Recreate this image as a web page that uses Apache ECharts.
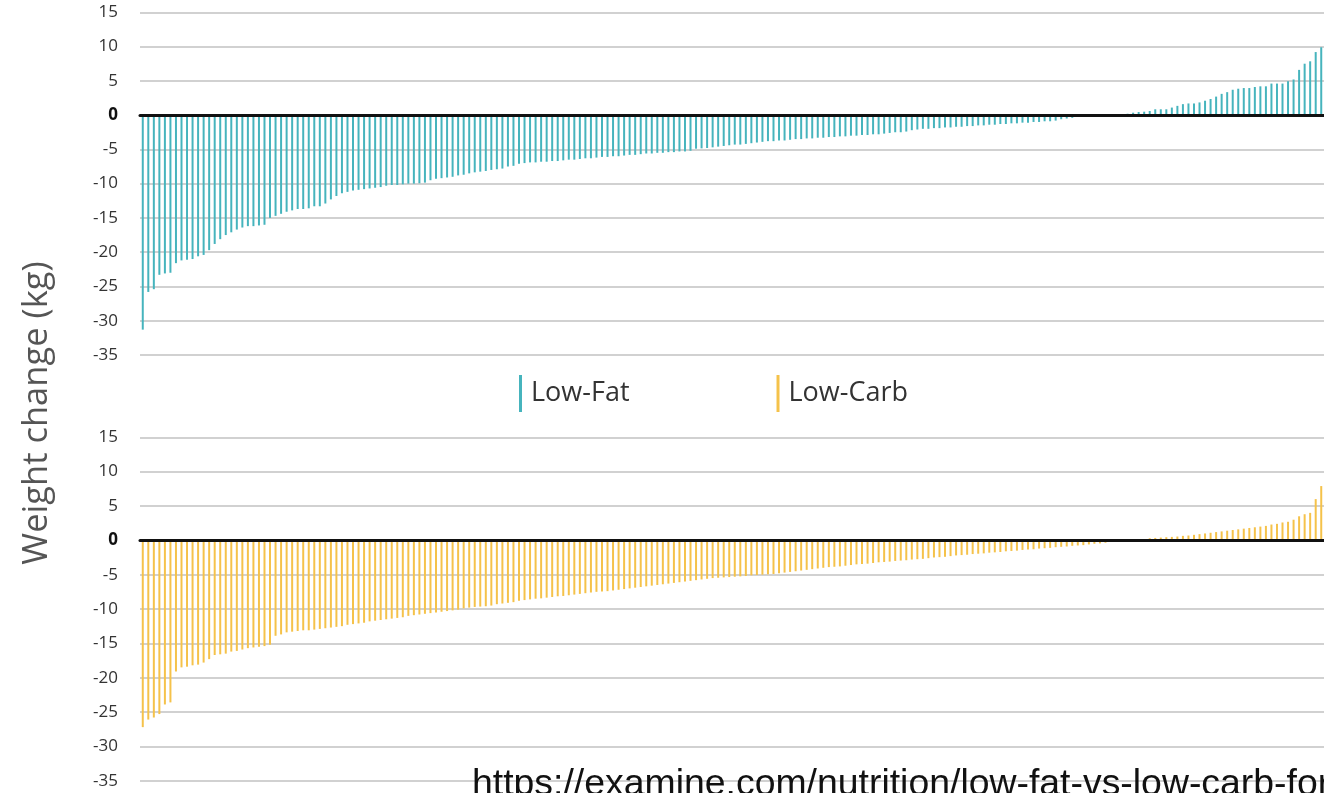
<!DOCTYPE html>
<html>
<head>
<meta charset="utf-8">
<script src="https://cdn.jsdelivr.net/npm/echarts@6/dist/echarts.min.js"></script>
<style>
  html, body { margin: 0; padding: 0; background: #ffffff; }
  #chart { width: 1324px; height: 793px; }
</style>
</head>
<body>
<div id="chart"></div>
<script>
// Individual weight change (kg) per participant, sorted from largest loss to largest gain
const lowFat = [
  -31.3, -25.8, -25.4, -23.3, -23.1, -23.0, -21.6, -21.2, -21.1, -21.0,
  -20.6, -20.4, -19.7, -18.8, -18.1, -17.5, -17.1, -16.7, -16.4, -16.2,
  -16.2, -16.1, -16.0, -15.0, -14.7, -14.4, -14.1, -13.9, -13.7, -13.7,
  -13.6, -13.3, -13.3, -12.9, -12.3, -11.8, -11.4, -11.2, -11.0, -10.9,
  -10.8, -10.7, -10.6, -10.5, -10.3, -10.2, -10.2, -10.1, -10.0, -10.0,
  -9.95, -9.85, -9.5, -9.3, -9.2, -9.1, -9.0, -8.8, -8.7, -8.5,
  -8.35, -8.25, -8.15, -8.0, -7.9, -7.8, -7.5, -7.4, -7.1, -7.0,
  -6.9, -6.9, -6.8, -6.8, -6.7, -6.7, -6.6, -6.5, -6.5, -6.4,
  -6.3, -6.3, -6.2, -6.1, -6.1, -6.0, -6.0, -5.9, -5.8, -5.8,
  -5.7, -5.6, -5.6, -5.5, -5.5, -5.4, -5.4, -5.3, -5.3, -5.2,
  -4.9, -4.85, -4.8, -4.7, -4.6, -4.5, -4.4, -4.3, -4.3, -4.2,
  -4.1, -4.0, -3.9, -3.8, -3.8, -3.7, -3.7, -3.6, -3.5, -3.5,
  -3.4, -3.4, -3.3, -3.3, -3.2, -3.2, -3.1, -3.1, -3.0, -3.0,
  -2.9, -2.9, -2.8, -2.8, -2.7, -2.6, -2.5, -2.5, -2.4, -2.2,
  -2.1, -2.0, -2.0, -1.9, -1.9, -1.8, -1.8, -1.7, -1.7, -1.6,
  -1.6, -1.5, -1.5, -1.4, -1.4, -1.3, -1.3, -1.2, -1.2, -1.1,
  -1.1, -1.0, -1.0, -0.9, -0.9, -0.8, -0.6, -0.5, -0.4, 0,
  0, 0, 0, 0, 0, 0, 0, 0, 0.2, 0.35,
  0.45, 0.5, 0.6, 0.85, 0.85, 0.85, 1.1, 1.35, 1.6, 1.7,
  1.7, 1.85, 2.1, 2.35, 2.7, 3.1, 3.35, 3.7, 3.85, 3.95,
  3.95, 4.1, 4.2, 4.2, 4.6, 4.6, 4.6, 4.95, 5.2, 6.6,
  7.5, 7.85, 9.2, 9.9
];

const lowCarb = [
  -27.2, -26.1, -25.8, -25.3, -23.9, -23.6, -19.1, -18.5, -18.4, -18.2,
  -18.1, -17.8, -17.3, -16.7, -16.6, -16.5, -16.2, -16.1, -15.9, -15.7,
  -15.6, -15.5, -15.4, -15.2, -13.9, -13.7, -13.4, -13.3, -13.2, -13.1,
  -13.1, -13.0, -12.9, -12.8, -12.7, -12.6, -12.5, -12.3, -12.2, -12.1,
  -12.0, -11.8, -11.7, -11.6, -11.5, -11.4, -11.3, -11.2, -11.0, -10.9,
  -10.8, -10.7, -10.6, -10.5, -10.4, -10.3, -10.2, -10.1, -9.9, -9.8,
  -9.7, -9.65, -9.6, -9.5, -9.3, -9.2, -9.1, -9.0, -8.8, -8.7,
  -8.6, -8.5, -8.45, -8.35, -8.25, -8.15, -8.1, -8.0, -7.9, -7.8,
  -7.7, -7.6, -7.5, -7.45, -7.4, -7.3, -7.2, -7.1, -7.0, -6.9,
  -6.8, -6.7, -6.6, -6.5, -6.4, -6.3, -6.2, -6.1, -6.0, -5.9,
  -5.8, -5.7, -5.6, -5.5, -5.45, -5.4, -5.35, -5.3, -5.25, -5.2,
  -5.1, -5.05, -5.0, -4.95, -4.9, -4.8, -4.7, -4.6, -4.5, -4.4,
  -4.3, -4.2, -4.1, -4.0, -3.9, -3.85, -3.8, -3.7, -3.6, -3.5,
  -3.45, -3.4, -3.3, -3.2, -3.15, -3.1, -3.0, -2.95, -2.9, -2.8,
  -2.75, -2.7, -2.6, -2.5, -2.45, -2.4, -2.3, -2.2, -2.15, -2.1,
  -2.0, -1.95, -1.9, -1.8, -1.75, -1.7, -1.6, -1.55, -1.5, -1.4,
  -1.35, -1.3, -1.2, -1.15, -1.1, -1.0, -0.95, -0.9, -0.8, -0.75,
  -0.7, -0.6, -0.5, -0.45, -0.35, 0, 0, 0, 0, 0,
  0, 0, 0.3, 0.35, 0.4, 0.45, 0.5, 0.55, 0.65, 0.7,
  0.8, 0.9, 1.0, 1.1, 1.2, 1.3, 1.4, 1.5, 1.6, 1.7,
  1.8, 1.9, 2.0, 2.1, 2.3, 2.4, 2.6, 2.7, 3.0, 3.5,
  3.8, 4.0, 6.0, 7.9
];

// Participant rank within each diet group
const participants = lowFat.map((_, i) => String(i + 1));

const seriesNames = ['Low-Fat', 'Low-Carb'];
const seriesColors = ['#46b4bd', '#f5c24a'];

const yMin = -35;
const yMax = 15;
const yStep = 5;

const axisTitle = 'Weight change (kg)';
const sourceUrl = 'https://examine.com/nutrition/low-fat-vs-low-carb-for';

const labelFont = '"Open Sans", "Noto Sans", sans-serif';

function makeXAxis(gridIndex) {
  return {
    type: 'category',
    gridIndex: gridIndex,
    data: participants,
    boundaryGap: true,
    axisTick: { show: false },
    axisLabel: { show: false },
    axisLine: { show: true, onZero: true, lineStyle: { color: '#111111', width: 3 } },
    z: 4
  };
}

function makeYAxis(gridIndex) {
  return {
    type: 'value',
    gridIndex: gridIndex,
    min: yMin,
    max: yMax,
    interval: yStep,
    axisLine: { show: false },
    axisTick: { show: false },
    splitLine: { show: true, lineStyle: { color: '#c2c2c2', width: 1.6 } },
    axisLabel: {
      margin: 22,
      fontSize: 17,
      color: '#333333',
      fontFamily: labelFont,
      formatter: v => (v === 0 ? '{zero|0}' : String(v)),
      rich: {
        zero: { fontSize: 17, fontWeight: 'bold', color: '#111111', fontFamily: labelFont }
      }
    }
  };
}

function makeSeries(name, data, color, index) {
  return {
    name: name,
    type: 'bar',
    xAxisIndex: index,
    yAxisIndex: index,
    data: data,
    barWidth: 2,
    itemStyle: { color: color },
    z: 2
  };
}

const chart = echarts.init(document.getElementById('chart'), null, { renderer: 'canvas' });

chart.setOption({
  animation: false,
  backgroundColor: '#ffffff',
  grid: [
    { left: 140, right: 0, top: 12.3, height: 342.7 },
    { left: 140, right: 0, top: 437.3, height: 343.4 }
  ],
  xAxis: [makeXAxis(0), makeXAxis(1)],
  yAxis: [makeYAxis(0), makeYAxis(1)],
  legend: {
    data: seriesNames,
    left: 514,
    top: 370,
    icon: 'rect',
    itemWidth: 3,
    itemHeight: 37,
    itemGap: 147,
    selectedMode: false,
    textStyle: {
      fontSize: 27,
      color: '#333333',
      fontFamily: labelFont,
      fontWeight: 'normal',
      padding: [6, 0, 0, 4]
    }
  },
  graphic: [
    {
      type: 'text',
      x: 37,
      y: 413,
      rotation: Math.PI / 2,
      style: {
        text: axisTitle,
        fontSize: 34.5,
        fontWeight: 'normal',
        fontFamily: labelFont,
        fill: '#555555',
        align: 'center',
        verticalAlign: 'middle'
      }
    },
    {
      type: 'text',
      x: 472,
      y: 766,
      z: 100,
      style: {
        text: sourceUrl,
        fontSize: 37.4,
        fontFamily: '"Liberation Sans", Arial, sans-serif',
        fill: '#111111',
        align: 'left',
        verticalAlign: 'top'
      }
    }
  ],
  series: [
    makeSeries(seriesNames[0], lowFat, seriesColors[0], 0),
    makeSeries(seriesNames[1], lowCarb, seriesColors[1], 1)
  ]
});
</script>
</body>
</html>
